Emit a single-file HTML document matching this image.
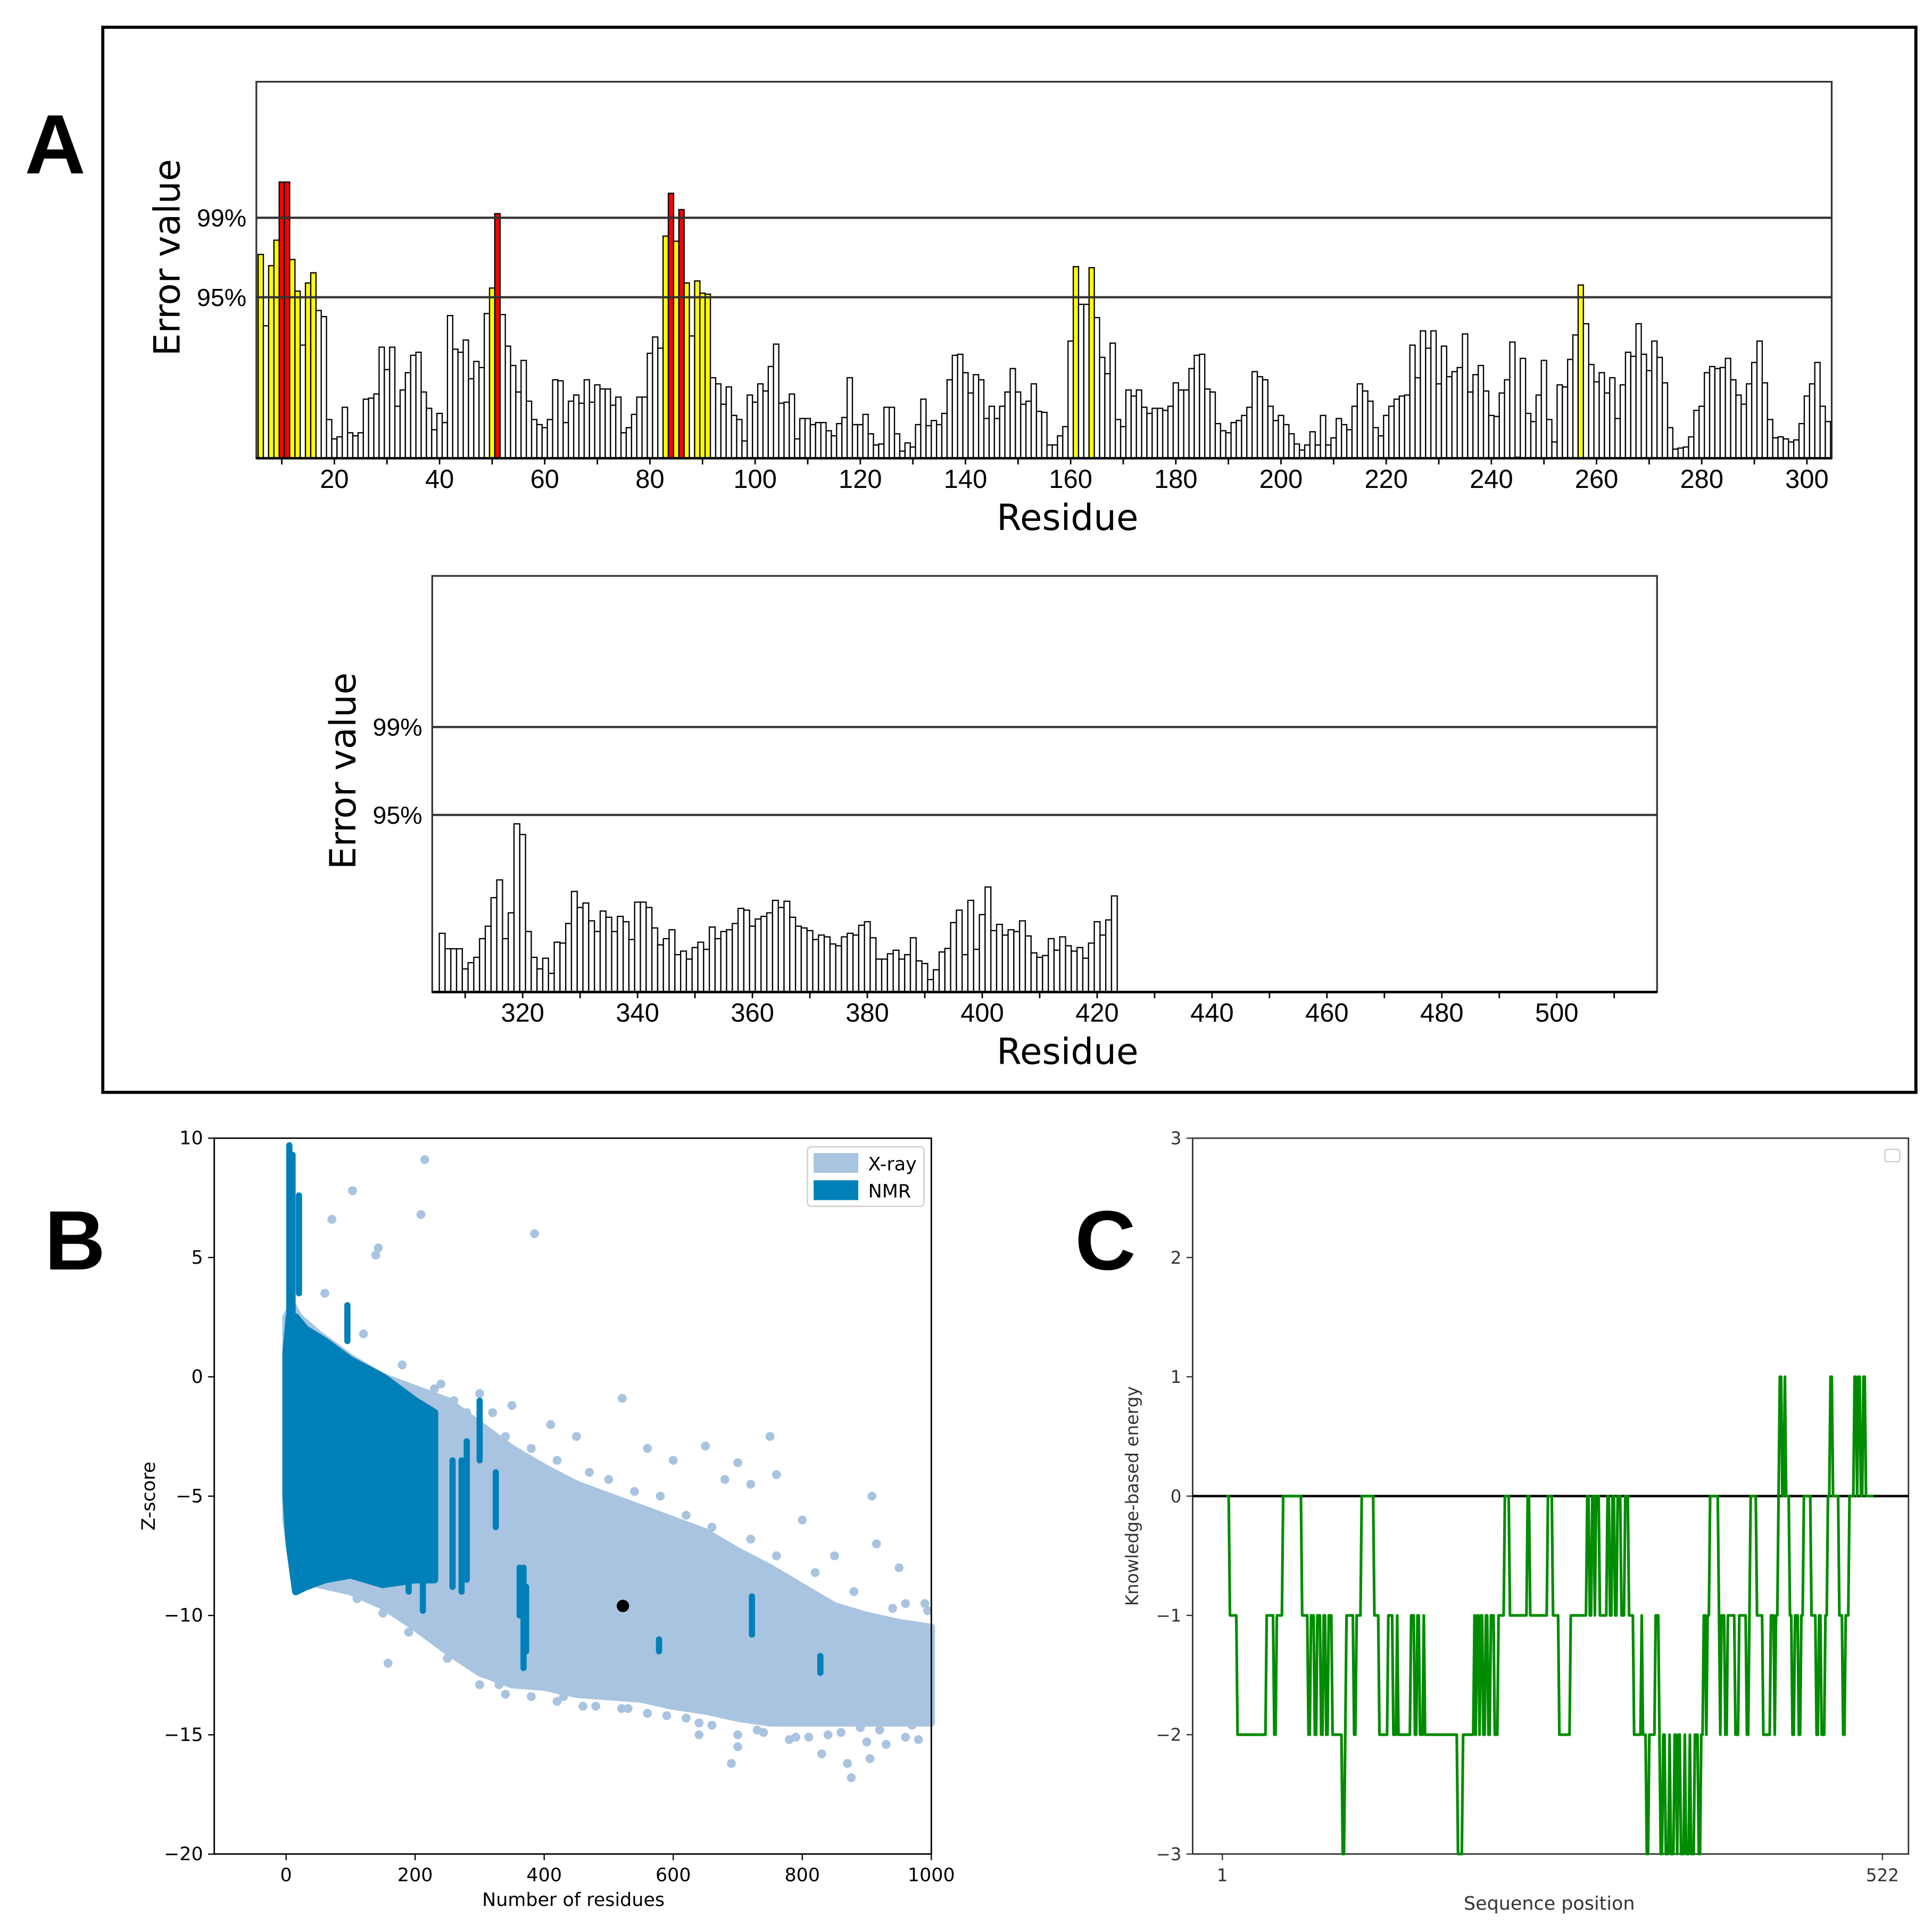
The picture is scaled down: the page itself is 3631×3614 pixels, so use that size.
<!DOCTYPE html>
<html><head><meta charset="utf-8"><style>
html,body{margin:0;padding:0;background:#fff;}
svg{display:block;}
text{font-family:"Liberation Sans","DejaVu Sans",sans-serif;}
.mpl{font-family:"DejaVu Sans","Liberation Sans",sans-serif;}
</style></head><body>
<svg id="fig" xmlns="http://www.w3.org/2000/svg" width="3631" height="3614" viewBox="0 0 1560 1552.7" preserveAspectRatio="none">
<rect x="0" y="0" width="1560" height="1553" fill="#fff"/>
<rect x="83" y="22" width="1464" height="860" fill="none" stroke="#000" stroke-width="2.5"/>
<text x="20" y="140" font-size="68" font-weight="bold">A</text>
<text x="36" y="1025" font-size="68" font-weight="bold">B</text>
<text x="868" y="1025" font-size="68" font-weight="bold">C</text>
<g id="gTop"></g>
<g id="gBot"></g>
<g id="gB"></g>
<g id="gC"></g>
</svg>
<script>
// ---------- Panel A data ----------
const topStartResidue = 6;
const topErrors = [
1000,650,945,1070,1355,1355,975,820,555,860,910,725,695,190,95,105,250,125,110,125,
290,295,315,545,435,545,255,335,420,505,520,325,245,140,220,175,700,535,520,580,
390,475,445,710,835,1200,705,550,455,325,480,280,190,165,150,190,385,380,175,280,
310,270,385,275,360,340,340,260,300,125,150,215,300,300,515,595,540,1090,1300,1065,
1220,860,600,870,810,805,395,365,265,350,210,190,85,310,275,365,330,450,560,270,
275,315,95,195,195,165,175,175,135,110,170,200,395,165,165,215,120,65,70,250,
250,120,35,75,55,165,290,160,185,165,220,385,505,510,420,320,410,385,195,255,
195,255,325,440,325,265,280,365,230,225,65,
65,110,155,575,940,755,755,935,690,495,415,565,190,155,335,305,335,250,220,245,
245,235,255,370,335,335,440,505,510,340,325,170,135,125,175,185,210,250,425,400,
385,255,185,210,165,120,70,40,65,130,65,210,65,100,195,165,140,255,365,330,
280,150,110,210,255,290,305,310,555,395,625,540,625,365,550,400,425,445,610,325,
410,455,330,210,205,320,385,570,5,490,220,180,310,480,190,80,360,350,485,605,
850,660,460,375,420,320,395,195,360,520,500,660,510,430,575,495,370,150,45,50,
55,105,235,255,420,450,440,445,490,385,310,265,365,470,575,370,190,100,105,95,
80,90,170,305,365,470,255,180];
const topThresholds = [790, 1180];      // 95%, 99%
const topThresholdLabels = ["95%", "99%"];
const topTickLabels = [20,40,60,80,100,120,140,160,180,200,220,240,260,280,300];
const topMinorTicks = [10,30,50,70,90,110,130,150,170,190,210,230,250,270,290];

const botStartResidue = 306;
const botErrors = [
330,243,243,243,130,165,195,300,370,530,
630,300,445,945,885,340,195,130,190,105,
280,275,385,565,475,500,400,340,455,420,
340,425,395,295,505,505,475,360,265,300,
350,210,230,185,250,280,240,365,300,340,
350,385,470,460,370,410,425,445,515,475,
510,420,370,360,345,295,320,310,270,260,
310,330,320,375,395,305,185,185,215,235,
185,210,305,175,160,70,125,225,245,390,
460,210,515,240,435,590,345,380,320,350,
340,400,315,220,195,205,300,235,310,260,
230,250,190,275,395,320,405,540];
const botThresholds = [995, 1489];
const botThresholdLabels = ["95%", "99%"];
const botTickLabels = [320,340,360,380,400,420,440,460,480,500];
const botMinorTicks = [310,330,350,370,390,410,430,450,470,490,510];

// ---------- Panel B data ----------
const xrayBins  = [0,10,20,50,100,150,200,250,300,350,400,450,500,550,600,650,700,750,800,850,900,950,1000];
const xrayUpper = [2.5,3,2.5,1.8,0.8,0,-0.5,-1,-2,-3,-3.8,-4.5,-5,-5.5,-6,-6.5,-7.3,-8,-8.8,-9.6,-10,-10.3,-10.5];
const xrayLower = [-6,-8,-8.5,-8.7,-9,-9.6,-10.5,-11.5,-12.4,-12.9,-13,-13.3,-13.4,-13.5,-13.8,-14,-14.3,-14.5,-14.5,-14.5,-14.5,-14.5,-14.5];
const nmrBins  = [0,5,15,30,60,100,150,200,230];
const nmrUpper = [1,2.5,2.5,2,1.5,0.7,0,-1,-1.5];
const nmrLower = [-5,-7,-9,-8.8,-8.5,-8.3,-8.7,-8.5,-8.5];
const nmrStreakX    = [5,10,20,95,190,212,258,272,280,300,325,362,368,372,578,722,828];
const nmrStreakTop  = [9.7,9.3,7.6,3,-3,-2.5,-3.5,-3.5,-2.7,-1,-4,-8,-8,-8.8,-11,-9.2,-11.7];
const nmrStreakBot  = [2,2,3.5,1.5,-9,-9.8,-8.8,-9,-8.5,-3.5,-6.3,-10,-12.2,-11.5,-11.5,-10.8,-12.4];
const xrayOutX = [215,103,71,209,385,143,139,521,750,908,915,158,2,876,690,905,60,120,180,240,300,350,410,450,560,600,680,720,800,850,950,990,640,700,780,830,870,930,980,980,960,700,650,760,
 230,260,280,320,340,380,420,470,500,540,580,620,660,720,760,820,880,940,1000,
 300,340,380,420,460,520,560,620,660,700,740,790,840,900,960,
 110,150,190,250,330,430,480,530,590,640,730,810,860,890,920,970];
const xrayOutY = [9.1,7.8,6.6,6.8,6,5.4,5.1,-0.9,-2.5,-5,-7,-12,-6,-16.8,-16.2,-16,3.5,1.8,0.5,-0.3,-0.7,-1.2,-2,-2.5,-3,-3.5,-4.3,-4.5,-6,-7.5,-8,-9.5,-15,-15.5,-15.2,-15.8,-16.2,-15.4,-15.2,-14,-9.5,-3.6,-2.9,-4.1,
 -0.5,-1,-1.5,-1.5,-2.5,-3,-3.5,-4,-4.3,-4.8,-5,-5.8,-6.3,-6.8,-7.5,-8.2,-9,-9.7,-9.8,
 -12.9,-13.3,-13.4,-13.6,-13.8,-13.9,-14.1,-14.3,-14.6,-15,-14.9,-15.1,-15,-15.3,-15.1,
 -9.3,-9.9,-10.7,-11.8,-12.9,-13.4,-13.8,-13.9,-14.2,-14.5,-14.8,-15.1,-14.9,-14.7,-14.8,-14.6];
const targetResidues = [522];
const targetZ = [-9.6];
const bXTicks = [0,200,400,600,800,1000];
const bYTicks = [10,5,0,-5,-10,-15,-20];

// ---------- Panel C data ----------
const energySteps = [[4,0],[7,-1],[13,-2],[36,-1],[42,-2],[44,-1],[49,0],[64,-1],[69,-2],[71,-1],[74,-2],[76,-1],[79,-2],[81,-1],[83,-2],[85,-1],[88,-2],[96,-3],[98,-2],[99,-1],[105,-2],[107,-1],[111,0],[121,-1],[125,-2],[132,-1],[136,-2],[139,-1],[140,-2],[150,-1],[153,-2],[155,-1],[157,-2],[160,-1],[161,-2],[187,-3],[191,-2],[200,-1],[201,-2],[202,-1],[204,-2],[205,-1],[207,-2],[209,-1],[211,-2],[213,-1],[216,-2],[219,-1],[224,0],[228,-1],[242,0],[244,-1],[258,0],[262,-1],[267,-2],[276,-1],[289,0],[291,-1],[293,0],[295,-1],[296,0],[299,-1],[305,0],[307,-1],[309,0],[311,-1],[313,0],[316,-1],[319,0],[322,-1],[326,-2],[332,-1],[333,-2],[336,-3],[338,-2],[343,-1],[346,-2],[347,-3],[349,-2],[351,-3],[354,-2],[355,-3],[358,-2],[360,-3],[361,-2],[363,-3],[366,-2],[367,-3],[370,-2],[371,-3],[374,-2],[377,-3],[379,-2],[381,-1],[383,-2],[384,-1],[386,0],[393,-1],[394,-2],[395,-1],[398,-2],[400,-1],[406,-2],[409,-1],[415,-2],[417,-1],[418,0],[423,-1],[428,-2],[434,-1],[437,-2],[438,-1],[440,0],[441,1],[443,0],[445,1],[446,0],[449,-1],[451,-2],[453,-1],[456,-2],[458,-1],[460,0],[466,-1],[470,-2],[472,-1],[474,-2],[477,-1],[479,0],[481,1],[483,0],[488,-1],[491,-2],[493,-1],[496,0],[500,1],[502,0],[503,1],[505,0],[507,1],[509,0],[515,0]];
const cYTicks = [3,2,1,0,-1,-2,-3];
const cXTicks = [1,522];

const NS = "http://www.w3.org/2000/svg";
function mk(parent, tag, attrs, txt) {
  const e = document.createElementNS(NS, tag);
  for (const k in attrs) e.setAttribute(k, attrs[k]);
  if (txt !== undefined) e.textContent = txt;
  parent.appendChild(e);
  return e;
}

function errorChart(g, box, startRes, vals, thr, thrLabels, ticks, minor, resA, xA, resB, xB, unitPx, nameP) {
  const xS = r => xA + (r - resA) * (xB - xA) / (resB - resA);
  const yS = v => box.y1 - v * unitPx;
  const bw = (xB - xA) / (resB - resA);
  let f = mk(g, "rect", {x: box.x0, y: box.y0, width: box.x1 - box.x0, height: box.y1 - box.y0, fill: "#fff", stroke: "#333", "stroke-width": 1.4});
  
  
  vals.forEach((v, i) => {
    const r = startRes + i;
    const fill = v > thr[1] ? "#ff0000" : (v > thr[0] ? "#ffff00" : "#ffffff");
    const b = mk(g, "rect", {x: xS(r) - bw / 2, y: yS(v), width: bw, height: v * unitPx, fill: fill, stroke: "#000", "stroke-width": 1});
    
    
  });
  thr.forEach((t, i) => {
    const l = mk(g, "line", {x1: box.x0, x2: box.x1, y1: yS(t), y2: yS(t), stroke: "#333", "stroke-width": 1.8});
    
    
    const tx = mk(g, "text", {x: box.x0 - 8, y: yS(t) + 7, "text-anchor": "end", "font-size": 20}, thrLabels[i]);
    
    
  });
  const ax = mk(g, "line", {x1: box.x0, x2: box.x1, y1: box.y1, y2: box.y1, stroke: "#000", "stroke-width": 2});
  
  
  ticks.concat(minor).forEach(t => {
    const tk = mk(g, "line", {x1: xS(t), x2: xS(t), y1: box.y1, y2: box.y1 + 5, stroke: "#000", "stroke-width": 1.2});
    
    
  });
  ticks.forEach(t => {
    const tl = mk(g, "text", {x: xS(t), y: box.y1 + 24, "text-anchor": "middle", "font-size": 21}, String(t));
    
    
  });
  const xt = mk(g, "text", {x: 862, y: box.y1 + 58, "text-anchor": "middle", "font-size": 29, class: "mpl"}, "Residue");
  
  
  const cy = (yS(thr[0]) + yS(thr[1])) / 2;
  const yx = box.x0 - 62;
  const yt = mk(g, "text", {x: yx, y: cy, "text-anchor": "middle", "font-size": 29, class: "mpl", transform: "rotate(-90 " + yx + " " + cy + ")"}, "Error value");
  
  
}
errorChart(document.getElementById("gTop"), {x0: 207, x1: 1479, y0: 66, y1: 370}, topStartResidue, topErrors, topThresholds, topThresholdLabels, topTickLabels, topMinorTicks, 20, 270, 300, 1459, 130 / 790, "top");
errorChart(document.getElementById("gBot"), {x0: 349, x1: 1338, y0: 465, y1: 801}, botStartResidue, botErrors, botThresholds, botThresholdLabels, botTickLabels, botMinorTicks, 320, 422, 500, 1257, 143 / 995, "bottom");

// ---------- Panel B ----------
(function () {
  const g = document.getElementById("gB");
  const xB = v => 231 + v * 0.521;
  const yB = z => 919 + (10 - z) * 19.27;
  const XR = "#a9c4e0", NM = "#0080b8";
  let fr = mk(g, "rect", {x: 173, y: 919, width: 579, height: 578, fill: "#fff"});
  
  
  function band(bins, up, lo, col, nm) {
    let d = "M" + bins.map((b, i) => xB(b) + "," + yB(up[i])).join(" L");
    for (let i = bins.length - 1; i >= 0; i--) d += " L" + xB(bins[i]) + "," + yB(lo[i]);
    const p = mk(g, "path", {d: d + "Z", fill: col, stroke: col, "stroke-width": 6, "stroke-linejoin": "round"});
    
    
  }
  band(xrayBins, xrayUpper, xrayLower, XR, 'xray-cloud');
  xrayOutX.forEach((x, i) => {
    const c = mk(g, "circle", {cx: Math.min(xB(x), 749), cy: yB(xrayOutY[i]), r: 3.6, fill: XR});
    
    
  });
  band(nmrBins, nmrUpper, nmrLower, NM, 'nmr-cloud');
  nmrStreakX.forEach((x, i) => {
    const l = mk(g, "line", {x1: xB(x), x2: xB(x), y1: yB(nmrStreakTop[i]), y2: yB(nmrStreakBot[i]), stroke: NM, "stroke-width": 5, "stroke-linecap": "round"});
    
    
  });
  targetResidues.forEach((x, i) => {
    const c = mk(g, "circle", {cx: xB(x), cy: yB(targetZ[i]), r: 5, fill: "#000"});
    
    
  });
  let bx = mk(g, "rect", {x: 173, y: 919, width: 579, height: 578, fill: "none", stroke: "#000", "stroke-width": 1.2});
  
  
  bXTicks.forEach(t => {
    const tk = mk(g, "line", {x1: xB(t), x2: xB(t), y1: 1497, y2: 1502, stroke: "#000"});
    
    
    const tl = mk(g, "text", {x: xB(t), y: 1519, "text-anchor": "middle", "font-size": 15, class: "mpl"}, String(t));
    
    
  });
  bYTicks.forEach(t => {
    const tk = mk(g, "line", {x1: 168, x2: 173, y1: yB(t), y2: yB(t), stroke: "#000"});
    
    
    const tl = mk(g, "text", {x: 164, y: yB(t) + 5, "text-anchor": "end", "font-size": 15, class: "mpl"}, String(t).replace('-', '\u2212'));
    
    
  });
  const xt = mk(g, "text", {x: 463, y: 1539, "text-anchor": "middle", "font-size": 15, class: "mpl"}, "Number of residues");
  
  
  const yt = mk(g, "text", {x: 125, y: 1208, "text-anchor": "middle", "font-size": 15, class: "mpl", transform: "rotate(-90 125 1208)"}, "Z-score");
  
  
  const lg = mk(g, "rect", {x: 652, y: 926, width: 94, height: 48, fill: "#fff", stroke: "#ccc", rx: 3});
  
  
  const s1 = mk(g, "rect", {x: 657, y: 931, width: 36, height: 16, fill: XR});
  
  
  const t1 = mk(g, "text", {x: 701, y: 945, "font-size": 15, class: "mpl"}, "X-ray");
  
  
  const s2 = mk(g, "rect", {x: 657, y: 953, width: 36, height: 16, fill: NM});
  
  
  const t2 = mk(g, "text", {x: 701, y: 967, "font-size": 15, class: "mpl"}, "NMR");
  
  
})();

// ---------- Panel C ----------
(function () {
  const g = document.getElementById("gC");
  const xC = p => 987 + (p - 1) * (533 / 521);
  const yC = v => 1208 - v * 96.33;
  let fr = mk(g, "rect", {x: 963, y: 919, width: 578, height: 578, fill: "#fff", stroke: "#333", "stroke-width": 1.2});
  
  
  const z = mk(g, "line", {x1: 963, x2: 1541, y1: yC(0), y2: yC(0), stroke: "#000", "stroke-width": 2});
  
  
  const pts = [];
  energySteps.forEach((s, i) => {
    if (i > 0) pts.push(xC(s[0] - 1) + "," + yC(energySteps[i - 1][1]));
    pts.push(xC(s[0]) + "," + yC(s[1]));
  });
  const pl = mk(g, "polyline", {points: pts.join(" "), fill: "none", stroke: "#008c00", "stroke-width": 2.2, "stroke-linejoin": "round"});
  
  
  cYTicks.forEach(t => {
    const tk = mk(g, "line", {x1: 958, x2: 963, y1: yC(t), y2: yC(t), stroke: "#333"});
    
    
    const tl = mk(g, "text", {x: 954, y: yC(t) + 5, "text-anchor": "end", "font-size": 14, fill: "#333", class: "mpl"}, String(t).replace('-', '\u2212'));
    
    
  });
  cXTicks.forEach(t => {
    const tk = mk(g, "line", {x1: xC(t), x2: xC(t), y1: 1497, y2: 1502, stroke: "#333"});
    
    
    const tl = mk(g, "text", {x: xC(t), y: 1519, "text-anchor": "middle", "font-size": 14, fill: "#333", class: "mpl"}, String(t));
    
    
  });
  const xt = mk(g, "text", {x: 1251, y: 1542, "text-anchor": "middle", "font-size": 15, fill: "#333", class: "mpl"}, "Sequence position");
  
  
  const yt = mk(g, "text", {x: 919, y: 1208, "text-anchor": "middle", "font-size": 14, fill: "#333", class: "mpl", transform: "rotate(-90 919 1208)"}, "Knowledge-based energy");
  
  
  const lg = mk(g, "rect", {x: 1522, y: 928, width: 12, height: 10, fill: "#fff", stroke: "#ccc", rx: 2});
  
  
})();
</script>
</body></html>
